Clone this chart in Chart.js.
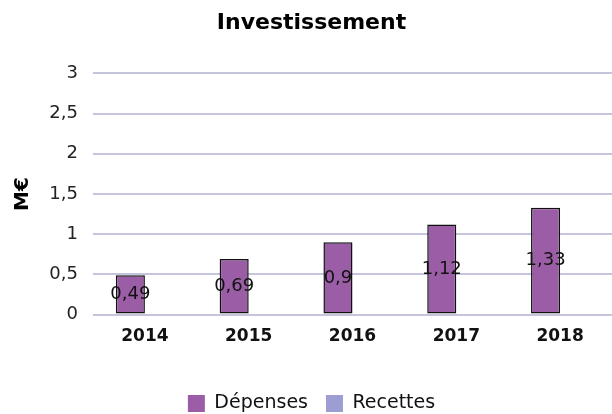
<!DOCTYPE html>
<html>
<head>
<meta charset="utf-8">
<script src="https://cdn.jsdelivr.net/npm/chart.js@4"></script>
<style>
  html, body { margin: 0; padding: 0; background: #fff; }
  #wrap { width: 612px; height: 414px; overflow: hidden; }
</style>
</head>
<body>
<div id="wrap"><canvas id="invChart" width="612" height="414"></canvas></div>
<script>
// Investissement - dépenses / recettes (M€)
const years = ['2014', '2015', '2016', '2017', '2018'];
const depenses = [0.49, 0.69, 0.9, 1.12, 1.33];
const recettes = [null, null, null, null, null];
const yTicks = [0, 0.5, 1, 1.5, 2, 2.5, 3];

const FONT = '"DejaVu Sans", Verdana, sans-serif';
const frNum = v => String(v).replace('.', ',');

// value labels drawn in the middle of each bar
const barLabels = {
    id: 'barLabels',
    afterDatasetsDraw(chart) {
        const ctx = chart.ctx;
        ctx.save();
        ctx.font = '18px ' + FONT;
        ctx.fillStyle = '#111';
        ctx.textAlign = 'center';
        ctx.textBaseline = 'middle';
        chart.data.datasets.forEach((ds, i) => {
            const meta = chart.getDatasetMeta(i);
            meta.data.forEach((bar, j) => {
                const v = ds.data[j];
                if (v == null) return;
                ctx.fillText(frNum(v), bar.x, (bar.y + bar.base) / 2);
            });
        });
        ctx.restore();
    }
};

const ctx = document.getElementById('invChart').getContext('2d');

new Chart(ctx, {
    type: 'bar',
    data: {
        labels: years,
        datasets: [
            {
                label: 'Dépenses',
                data: depenses,
                backgroundColor: '#9b5ea6',
                borderColor: '#111',
                borderWidth: 1.5,
                borderSkipped: false,
                categoryPercentage: 0.56,
                barPercentage: 1,
            },
            {
                label: 'Recettes',
                data: recettes,
                backgroundColor: '#9d9dd3',
                borderColor: '#111',
                borderWidth: 1.5,
                borderSkipped: false,
                categoryPercentage: 0.56,
                barPercentage: 1,
            },
        ],
    },
    options: {
        responsive: false,
        animation: false,
        layout: { padding: { left: 5, right: -6, top: 0, bottom: -9 } },
        plugins: {
            title: {
                display: true,
                text: 'Investissement',
                color: '#000',
                font: { family: FONT, size: 22, weight: 'bold' },
                padding: { top: 10, bottom: 37 },
            },
            legend: {
                position: 'bottom',
                labels: {
                    color: '#111',
                    font: { family: FONT, size: 19 },
                    boxWidth: 17,
                    boxHeight: 17,
                    padding: 18,
                    useBorderRadius: false,
                    generateLabels(chart) {
                        const items = Chart.defaults.plugins.legend.labels.generateLabels(chart);
                        items.forEach(it => { it.lineWidth = 0; it.strokeStyle = 'rgba(0,0,0,0)'; });
                        return items;
                    },
                },
            },
            tooltip: { enabled: false },
        },
        scales: {
            x: {
                grid: { display: false, drawTicks: false },
                border: { display: false },
                ticks: {
                    color: '#111',
                    padding: 12,
                    font: { family: FONT, size: 17, weight: 'bold' },
                },
                afterFit(scale) { scale.height += 17; },
            },
            y: {
                min: 0,
                max: 3,
                afterBuildTicks(scale) { scale.ticks = yTicks.map(v => ({ value: v })); },
                grid: { color: '#c4c4dc', lineWidth: 2, drawTicks: false },
                border: { display: false },
                ticks: {
                    color: '#222',
                    padding: 15,
                    font: { family: FONT, size: 18 },
                    callback: v => frNum(v),
                },
                title: {
                    display: true,
                    text: 'M€',
                    color: '#000',
                    padding: { top: 6, bottom: 0 },
                    font: { family: FONT, size: 20, weight: 'bold' },
                },
                afterFit(scale) { scale.width = 88; },
            },
        },
    },
    plugins: [barLabels],
});
</script>
</body>
</html>
